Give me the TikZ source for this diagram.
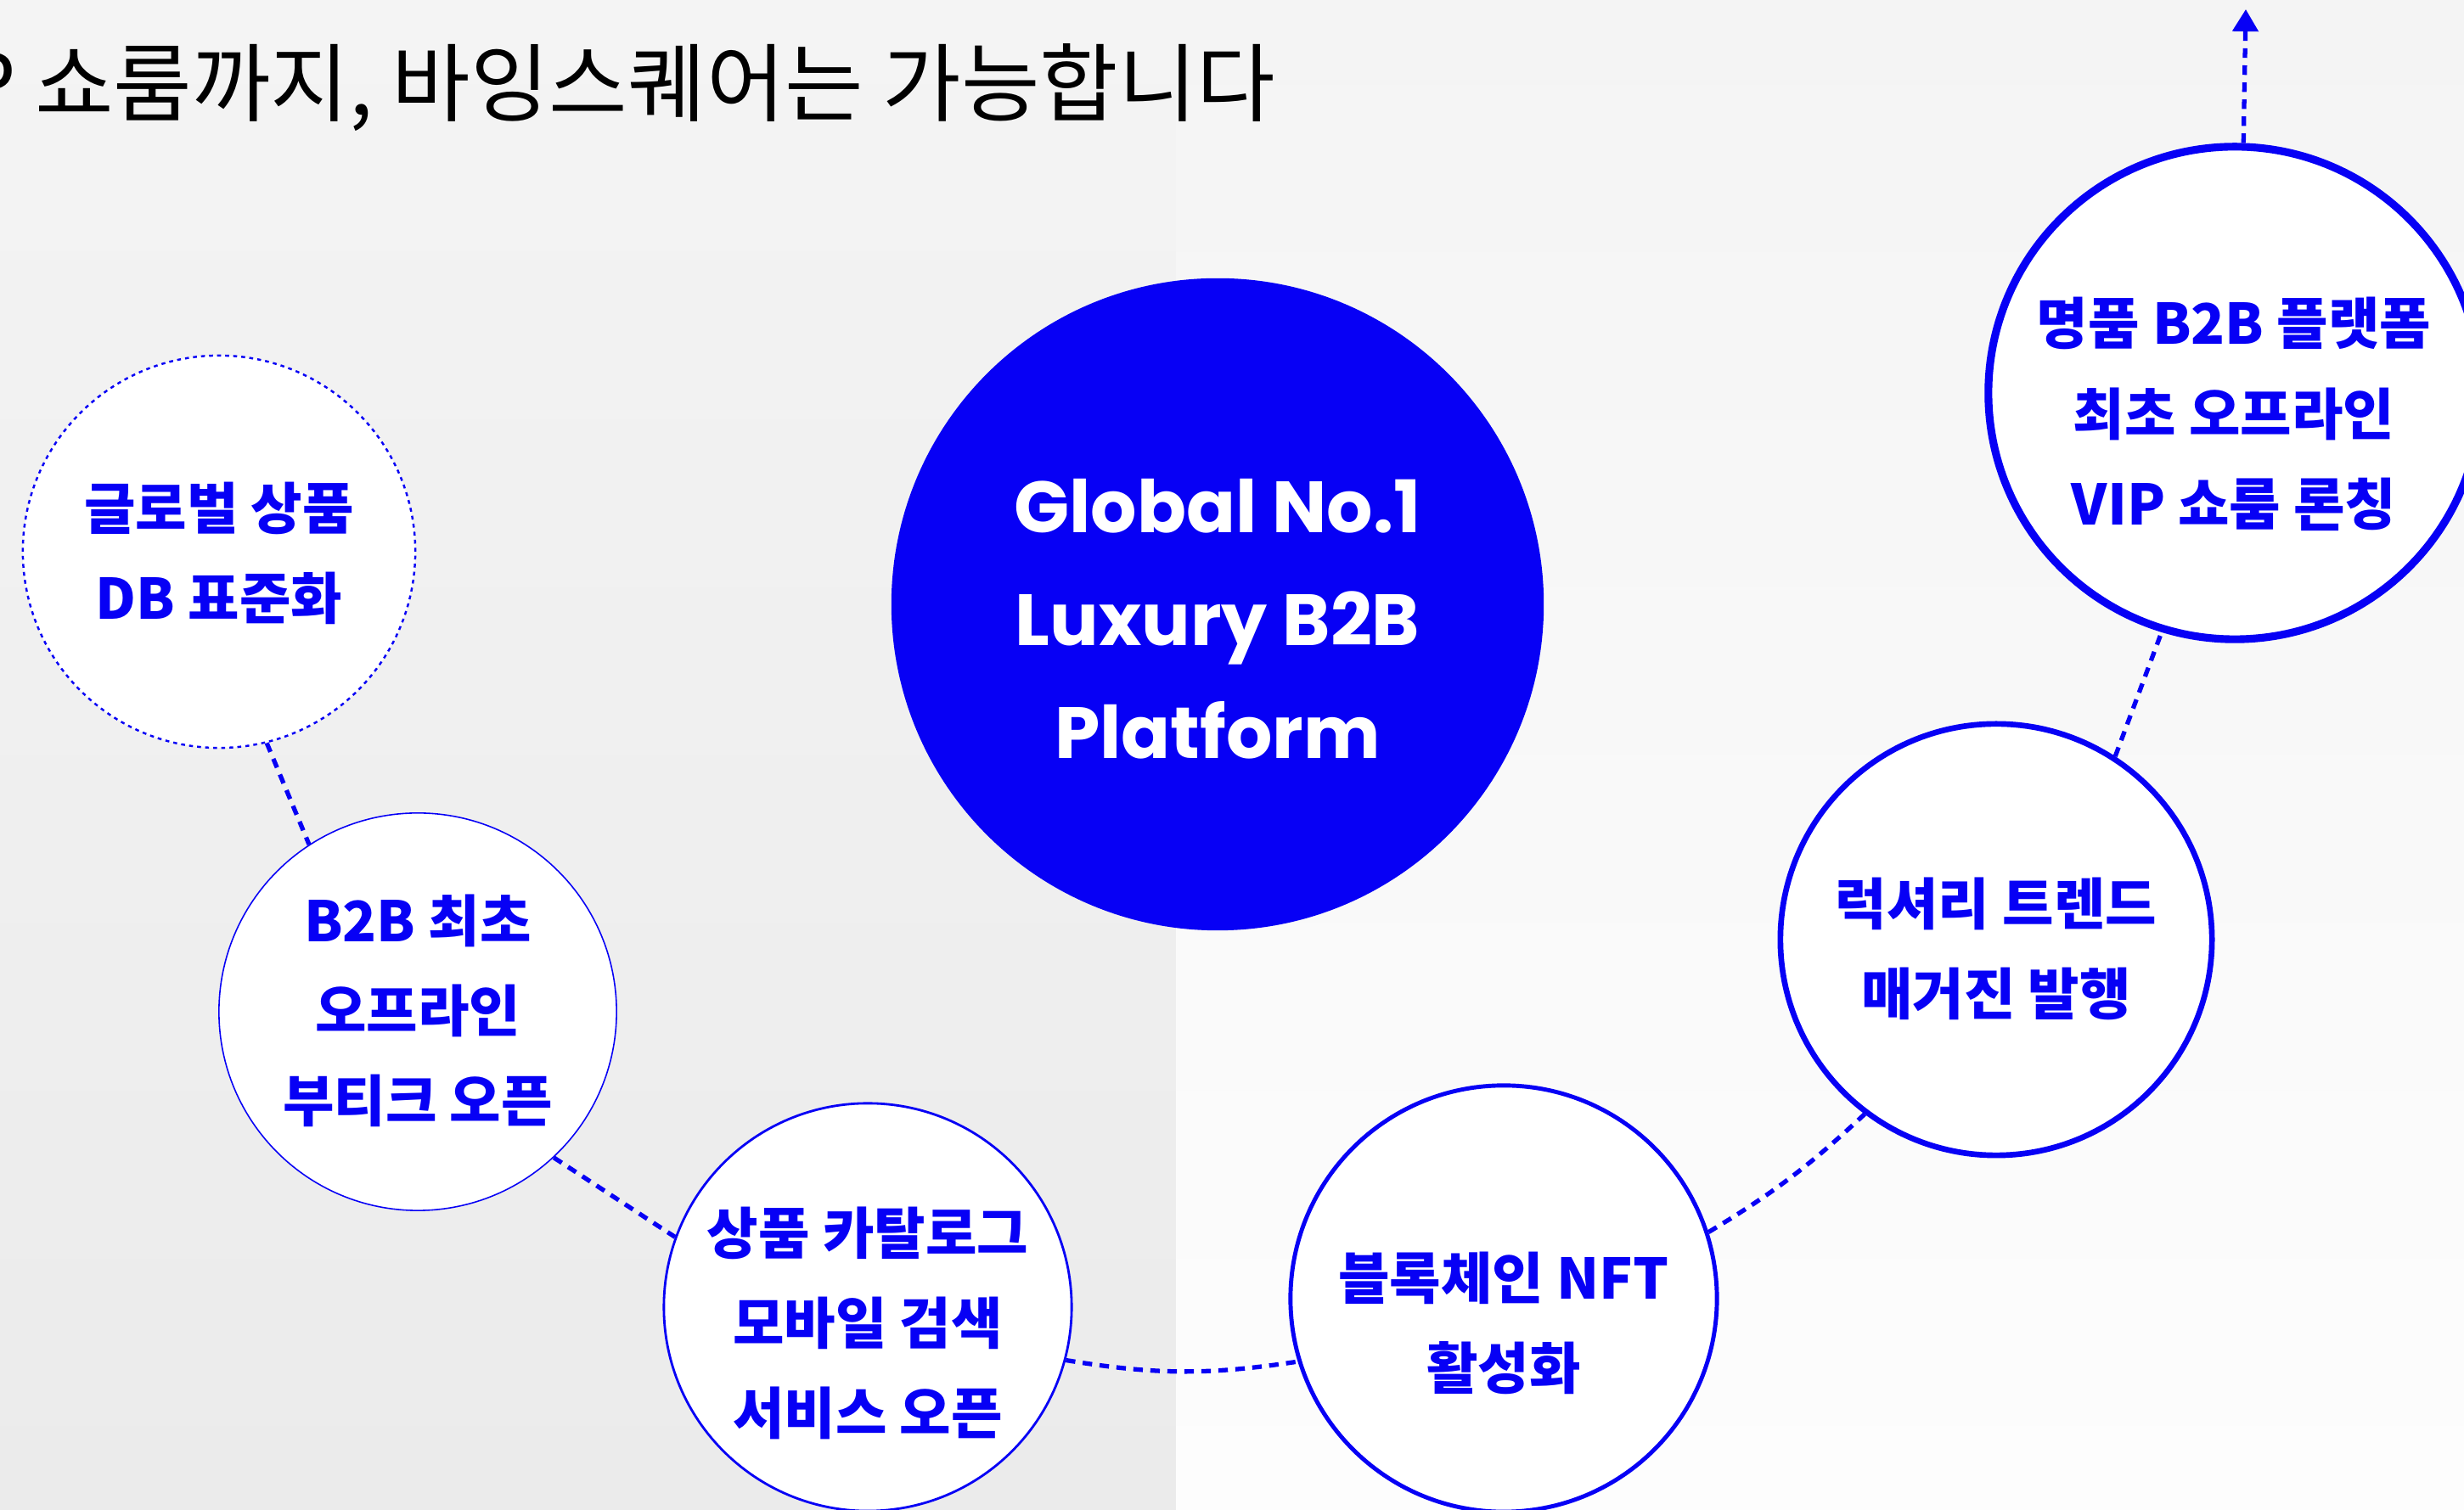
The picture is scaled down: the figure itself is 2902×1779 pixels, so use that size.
\documentclass[tikz,border=0pt]{standalone}
\usepackage{fontspec}
\newfontfamily\krfont{Noto Sans CJK KR}
\newfontfamily\enfont{Poppins}
\usetikzlibrary{arrows.meta}
\definecolor{bsblue}{HTML}{0700F5}
\definecolor{bgTop}{HTML}{F4F4F4}
\definecolor{bgLeft}{HTML}{EBEBEB}
\definecolor{bgRight}{HTML}{FDFDFD}

\begin{document}
\begin{tikzpicture}[
    x=0.01cm, y=0.01cm,
    ms/.style={circle, fill=white, draw=bsblue, inner sep=0pt},
    lbl/.style={font=\krfont\bfseries\fontsize{18.7}{30.2}\selectfont, text=bsblue, align=center},
    link/.style={draw=bsblue, line width=1.5pt, dash pattern=on 3.2pt off 2.5pt},
]
\useasboundingbox (0,0) rectangle (2902,1779);
\shade[top color=bgTop, bottom color=bgLeft] (0,0) rectangle (1385,1779);
\shade[top color=bgTop, bottom color=bgRight] (1385,0) rectangle (2902,1779);
\node[font=\krfont\fontsize{28.6}{34}\selectfont, anchor=base east, inner sep=0pt] (title) at (1503,1643) {VIP 쇼룸까지, 바잉스퀘어는 가능합니다};

\node[circle, fill=bsblue, inner sep=0pt, minimum size=7.68cm] (goal) at (1434,1067) {};
\node[font=\enfont\bfseries\fontsize{24.3}{37.8}\selectfont, text=white, align=center] (goalTxt) at (1434,1050) {Global No.1\\Luxury B2B\\Platform};

\node[ms, minimum size=4.62cm, line width=0.7pt, dash pattern=on 1.3pt off 1.4pt] (c1) at (258,1129) {};
\node[ms, minimum size=4.68cm, line width=0.45pt] (c2) at (492,587) {};
\node[ms, minimum size=4.8cm, line width=0.8pt] (c3) at (1022,239) {};
\node[ms, minimum size=5.02cm, line width=1.4pt] (c4) at (1771,249) {};
\node[ms, minimum size=5.08cm, line width=1.9pt] (c5) at (2351,672) {};
\node[ms, minimum size=5.8cm, line width=2.6pt] (c6) at (2632,1316) {};

\node[lbl] (t1) at (258,1127) {글로벌 상품\\DB 표준화};
\node[lbl] (t2) at (492,588) {B2B 최초\\오프라인\\부티크 오픈};
\node[lbl] (t3) at (1022,220) {상품 카탈로그\\모바일 검색\\서비스 오픈};
\node[lbl] (t4) at (1771,220) {블록체인 NFT\\활성화};
\node[lbl] (t5) at (2351,661) {럭셔리 트렌드\\매거진 발행};
\node[lbl] (t6) at (2631,1291) {명품 B2B 플랫폼\\최초 오프라인\\VIP 쇼룸 론칭};

\coordinate (up) at (2645,1768);
\draw[link] (c1.-76) -- (c2.123);
\draw[link] (c2.-47) -- (c3.160);
\draw[link] (c3.-15) to[bend right=9] (c4.197);
\draw[link] (c4.18) to[bend right=6] (c5.233);
\draw[link] (c5.57) -- (c6.253);
\draw[link, -{Triangle[width=8.5pt, length=7.4pt]}] (c6.88) -- (up);
\end{tikzpicture}
\end{document}
